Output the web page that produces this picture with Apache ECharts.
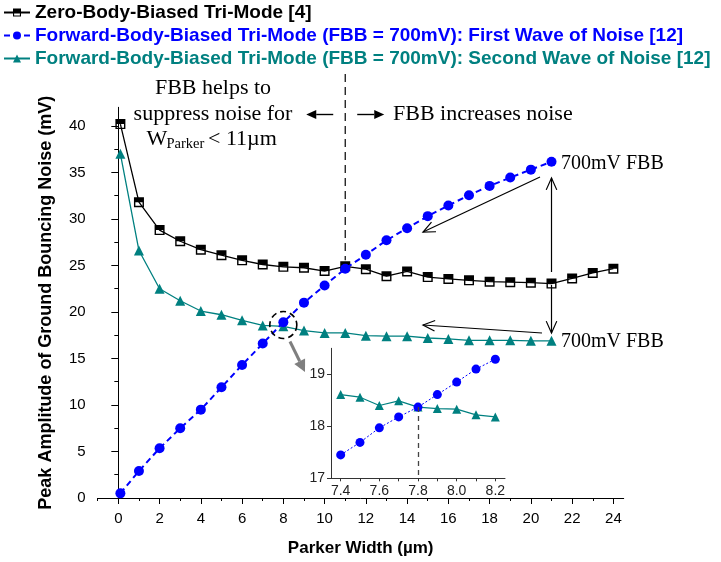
<!DOCTYPE html>
<html><head><meta charset="utf-8">
<script src="https://cdn.jsdelivr.net/npm/echarts@6/dist/echarts.min.js"></script>
<style>html,body{margin:0;padding:0;background:#fff}#c{width:721px;height:562px}</style>
</head><body><div id="c"></div>
<script>
// ---- data ----
const xZero = [0.1,1,2,3,4,5,6,7,8,9,10,11,12,13,14,15,16,17,18,19,20,21,22,23,24];
const zeroBody = [40.2,31.8,28.8,27.6,26.7,26.1,25.55,25.1,24.85,24.75,24.4,24.9,24.6,23.85,24.35,23.75,23.55,23.4,23.25,23.2,23.15,23.05,23.6,24.2,24.65];
const xFbb = [0.1,1,2,3,4,5,6,7,8,9,10,11,12,13,14,15,16,17,18,19,20,21];
const firstWave = [0.5,2.9,5.35,7.5,9.5,11.9,14.3,16.6,18.9,21.0,22.85,24.65,26.15,27.7,29.0,30.3,31.45,32.55,33.55,34.45,35.3,36.15];
const secondWave = [37.0,26.6,22.5,21.2,20.1,19.7,19.1,18.55,18.45,18.0,17.75,17.75,17.45,17.4,17.4,17.2,17.1,16.95,16.95,16.95,16.9,16.9];
const xInset = [7.4,7.5,7.6,7.7,7.8,7.9,8.0,8.1,8.2];
const insetFirst = [17.45,17.69,17.97,18.18,18.37,18.61,18.85,19.10,19.29];
const insetSecond = [18.61,18.56,18.40,18.49,18.37,18.34,18.33,18.22,18.18];
const xTickLabels = [0,2,4,6,8,10,12,14,16,18,20,22,24];
const xMinorTicks = [-1,1,3,5,7,9,11,13,15,17,19,21,23];
const yTickLabels = [0,5,10,15,20,25,30,35,40];
const yMinorTicks = [2.5,7.5,12.5,17.5,22.5,27.5,32.5,37.5];
const insetXLabels = [7.4,7.6,7.8,8.0,8.2];
const insetXTicks = [7.4,7.5,7.6,7.7,7.8,7.9,8.0,8.1,8.2];
const insetYLabels = [17,18,19];
const seriesNames = ['Zero-Body-Biased Tri-Mode [4]',
  'Forward-Body-Biased Tri-Mode (FBB = 700mV): First Wave of Noise [12]',
  'Forward-Body-Biased Tri-Mode (FBB = 700mV): Second Wave of Noise [12]'];

const BLACK='#000000', BLUE='#0000ff', TEAL='#008080';
const sans = "Arial, 'Liberation Sans', sans-serif";
const serif = "'Times New Roman', 'Liberation Serif', serif";
const halfSquare = 'path://M0,0H10V10H0Z M1.4,5V8.6H8.6V5Z';

const zip = (xs, ys) => xs.map((x,i)=>[x, ys[i]]);

const chart = echarts.init(document.getElementById('c'));
const baseAxis = {
  axisLine:{show:true, lineStyle:{color:'#000', width:1}},
  splitLine:{show:false},
};
chart.setOption({
  animation:false,
  backgroundColor:'#fff',
  legend:{
    orient:'vertical', left:3, top:3, padding:0, itemGap:4, itemWidth:26, itemHeight:10,
    selectedMode:false,
    textStyle:{fontFamily:sans, fontWeight:'bold', fontSize:19},
    data:[
      {name:seriesNames[0], textStyle:{color:BLACK}},
      {name:seriesNames[1], textStyle:{color:BLUE}},
      {name:seriesNames[2], textStyle:{color:TEAL}}
    ]
  },
  grid:[
    {left:97.7, top:107.3, right:97.3, bottom:63.7},
    {left:331, top:348.3, width:174, height:130}
  ],
  xAxis:[
    Object.assign({}, baseAxis, {type:'value', gridIndex:0, min:-1, max:24.5, position:'bottom',
      name:'Parker Width (µm)', nameLocation:'middle', nameGap:42,
      nameTextStyle:{fontFamily:sans, fontWeight:'bold', fontSize:17, color:'#000'},
      axisTick:{show:true, inside:false, length:6, customValues:xTickLabels, lineStyle:{color:'#000'}},
      axisLabel:{customValues:xTickLabels, fontFamily:sans, fontSize:15, color:'#000', margin:13}}),
    {type:'value', gridIndex:0, min:-1, max:24.5, position:'bottom',
      axisLine:{show:false}, splitLine:{show:false},
      axisTick:{show:true, inside:false, length:3, customValues:xMinorTicks, lineStyle:{color:'#000'}},
      axisLabel:{show:false}},
    Object.assign({}, baseAxis, {type:'value', gridIndex:1, min:7.35, max:8.25, position:'bottom',
      axisLine:{show:true, lineStyle:{color:'#333', width:1}},
      axisTick:{show:true, inside:false, length:3, customValues:insetXTicks, lineStyle:{color:'#333'}},
      axisLabel:{customValues:insetXLabels, fontFamily:sans, fontSize:14, color:'#222', margin:6,
        formatter:v=>Number(v).toFixed(1)}})
  ],
  yAxis:[
    Object.assign({}, baseAxis, {type:'value', gridIndex:0, min:0, max:42, position:'left',
      name:'Peak Amplitude of Ground Bouncing Noise (mV)', nameLocation:'middle', nameGap:43,
      nameTextStyle:{fontFamily:sans, fontWeight:'bold', fontSize:18, color:'#000'},
      axisTick:{show:true, inside:false, length:7, customValues:yTickLabels, lineStyle:{color:'#000'}},
      axisLabel:{customValues:yTickLabels, fontFamily:sans, fontSize:15, color:'#000', margin:12}}),
    {type:'value', gridIndex:0, min:0, max:42, position:'left',
      axisLine:{show:false}, splitLine:{show:false},
      axisTick:{show:true, inside:false, length:4, customValues:yMinorTicks, lineStyle:{color:'#000'}},
      axisLabel:{show:false}},
    Object.assign({}, baseAxis, {type:'value', gridIndex:1, min:17, max:19.5, position:'left',
      axisLine:{show:true, lineStyle:{color:'#333', width:1}},
      axisTick:{show:true, inside:false, length:4, customValues:insetYLabels, lineStyle:{color:'#333'}},
      axisLabel:{customValues:insetYLabels, fontFamily:sans, fontSize:14, color:'#222', margin:6}})
  ],
  series:[
    {name:seriesNames[0], type:'line', xAxisIndex:0, yAxisIndex:0, data:zip(xZero, zeroBody),
      symbol:halfSquare, symbolSize:10, color:BLACK,
      lineStyle:{color:BLACK, width:1.3}, itemStyle:{color:BLACK}, z:3},
    {name:seriesNames[1], type:'line', xAxisIndex:0, yAxisIndex:0, data:zip(xFbb, firstWave),
      symbol:'circle', symbolSize:10, color:BLUE,
      lineStyle:{color:BLUE, width:2, type:[6,4]}, itemStyle:{color:BLUE}, z:4},
    {name:seriesNames[2], type:'line', xAxisIndex:0, yAxisIndex:0, data:zip(xFbb, secondWave),
      symbol:'triangle', symbolSize:10, color:TEAL,
      lineStyle:{color:TEAL, width:1.3}, itemStyle:{color:TEAL}, z:3},
    {name:'inset-first', type:'line', xAxisIndex:2, yAxisIndex:2, data:zip(xInset, insetFirst),
      symbol:'circle', symbolSize:9, color:BLUE,
      lineStyle:{color:BLUE, width:1, type:[2,2]}, itemStyle:{color:BLUE}, z:4,
      markLine:{silent:true, symbol:['none','none'], label:{show:false},
        lineStyle:{color:'#444', type:[5,4], width:1.3},
        data:[[{coord:[7.8, 18.37]},{coord:[7.8, 17]}]]}},
    {name:'inset-second', type:'line', xAxisIndex:2, yAxisIndex:2, data:zip(xInset, insetSecond),
      symbol:'triangle', symbolSize:9, color:TEAL,
      lineStyle:{color:TEAL, width:1.2}, itemStyle:{color:TEAL}, z:3}
  ]
});

// ---- annotations ----
const P = (x,y)=>chart.convertToPixel({gridIndex:0},[x,y]);
function pl(points, extra){ return {type:'polyline', z:50, silent:true, shape:{points:points},
  style:Object.assign({stroke:'#000', lineWidth:1.2, fill:null}, extra||{})}; }
function openHead(tip, from, len, angDeg){
  const dx=from[0]-tip[0], dy=from[1]-tip[1], L=Math.hypot(dx,dy), ux=dx/L, uy=dy/L;
  const a=angDeg*Math.PI/180, c=Math.cos(a), s=Math.sin(a);
  return [[tip[0]+len*(ux*c-uy*s), tip[1]+len*(ux*s+uy*c)], tip,
          [tip[0]+len*(ux*c+uy*s), tip[1]+len*(-ux*s+uy*c)]];
}
function arrowOpen(from, tip){ return [pl([from, tip]), pl(openHead(tip, from, 13, 24))]; }
function arrowFilled(from, tip, len, halfW, color, width){
  const dx=tip[0]-from[0], dy=tip[1]-from[1], L=Math.hypot(dx,dy), ux=dx/L, uy=dy/L;
  const base=[tip[0]-ux*len, tip[1]-uy*len];
  return [pl([from, base], {stroke:color, lineWidth:width}),
    {type:'polygon', z:50, silent:true, shape:{points:[tip,[base[0]-uy*halfW, base[1]+ux*halfW],[base[0]+uy*halfW, base[1]-ux*halfW]]},
     style:{fill:color, stroke:null}}];
}
function txt(x,y,text,size,align,extra){ return {type:'text', z:60, silent:true, x:x, y:y,
  style:Object.assign({text:text, fill:'#000', font:size+'px '+serif, align:align||'left', verticalAlign:'middle'}, extra||{})}; }

const pDash = P(11, 24.9);
const p21 = P(21, 0);
const g = [];
g.push(pl([[pDash[0], 74],[pDash[0], pDash[1]-6]], {lineDash:[8,5], lineWidth:1.2}));
g.push(...arrowFilled([pDash[0]-12,114.5],[pDash[0]-39,114.5], 10, 4.5, '#000', 1.4));
g.push(...arrowFilled([pDash[0]+12,114.5],[pDash[0]+39,114.5], 10, 4.5, '#000', 1.4));
g.push(txt(213, 88, 'FBB helps to', 22, 'center'));
g.push(txt(213, 114, 'suppress noise for', 22, 'center'));
g.push(txt(146.5, 139, 'W', 22, 'left'));
g.push(txt(166.5, 144, 'Parker', 14.5, 'left'));
g.push(txt(208, 139, '< 11µm', 22, 'left'));
g.push(txt(393, 114.5, 'FBB increases noise', 22, 'left'));
g.push(txt(561, 163.5, '700mV FBB', 20, 'left'));
g.push(txt(561, 341.5, '700mV FBB', 20, 'left'));
g.push(...arrowOpen([540,177],[423,232]));
g.push(...arrowOpen([p21[0],272],[p21[0],178]));
g.push(...arrowOpen([p21[0],285],[p21[0],333]));
g.push(...arrowOpen([542,333],[423,325]));
g.push({type:'circle', z:50, silent:true, shape:{cx:283.3, cy:325, r:13.5},
  style:{fill:null, stroke:'#000', lineWidth:1.6, lineDash:[6,4]}});
g.push(...arrowFilled([290,341.5],[305,372], 12, 6, '#7f7f7f', 3));
chart.setOption({graphic:{elements:g}});
</script>
</body></html>
